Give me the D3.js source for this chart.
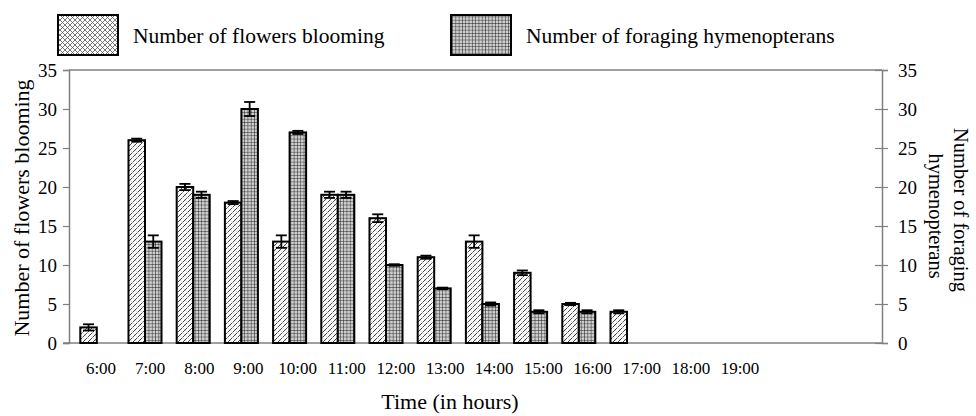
<!DOCTYPE html>
<html><head><meta charset="utf-8">
<script src="https://cdn.jsdelivr.net/npm/d3@7"></script>
<style>
html,body{margin:0;padding:0;background:#fff;}
svg{display:block;font-family:"Liberation Serif","Times New Roman",serif;}
</style></head>
<body>
<svg id="c" width="976" height="416"></svg>
<script>
// ---- data ----
const hours = ["6:00","7:00","8:00","9:00","10:00","11:00","12:00","13:00","14:00","15:00","16:00","17:00","18:00","19:00"];
const flowers    = [2, 26, 20, 18, 13, 19, 16, 11, 13, 9, 5, 4, null, null];
const flowersErr = [0.4, 0.2, 0.4, 0.2, 0.8, 0.4, 0.5, 0.2, 0.8, 0.3, 0.15, 0.2, null, null];
const hymen      = [null, 13, 19, 30, 27, 19, 10, 7, 5, 4, 4, null, null, null];
const hymenErr   = [null, 0.8, 0.4, 0.9, 0.2, 0.4, 0.1, 0.1, 0.2, 0.2, 0.2, null, null, null];
const yTicks = [0, 5, 10, 15, 20, 25, 30, 35];
const seriesNames = ["Number of flowers blooming", "Number of foraging hymenopterans"];

const svg = d3.select("#c");
const L = 69, R = 882, T = 70, B = 343;
const axisColor = "#808080";

// patterns
const defs = svg.append("defs");
const p1 = defs.append("pattern").attr("id","hatch").attr("patternUnits","userSpaceOnUse")
  .attr("width",5).attr("height",5);
p1.append("rect").attr("width",5).attr("height",5).attr("fill","#fff");
p1.append("path").attr("d","M0,5 L5,0 M-1,1 L1,-1 M4,6 L6,4").attr("stroke","#333").attr("stroke-width",0.9);
p1.append("path").attr("d","M0,0 L5,5").attr("stroke","#ccc").attr("stroke-width",0.6);

const p1b = defs.append("pattern").attr("id","cross").attr("patternUnits","userSpaceOnUse")
  .attr("width",5).attr("height",5);
p1b.append("rect").attr("width",5).attr("height",5).attr("fill","#fff");
p1b.append("path").attr("d","M0,5 L5,0 M-1,1 L1,-1 M4,6 L6,4 M0,0 L5,5 M-1,4 L1,6 M4,-1 L6,1").attr("stroke","#555").attr("stroke-width",0.8);

const p2 = defs.append("pattern").attr("id","grid").attr("patternUnits","userSpaceOnUse")
  .attr("width",3.3).attr("height",3.3);
p2.append("rect").attr("width",3.3).attr("height",3.3).attr("fill","#cfcfcf");
p2.append("path").attr("d","M0,0 L3.3,0 M0,0 L0,3.3").attr("stroke","#111").attr("stroke-width",0.9);

// scales
const x0 = d3.scaleBand().domain(hours).range([72.7, 72.7 + 48.2*hours.length]).paddingInner(0.315).paddingOuter(0.1575);
const x1 = d3.scaleBand().domain([0,1]).range([0, x0.bandwidth()]);
const y = d3.scaleLinear().domain([0,35]).range([B,T]);
const xl = d3.scalePoint().domain(hours).range([101, 740]);

// frame
svg.append("line").attr("x1",L).attr("x2",R).attr("y1",T).attr("y2",T).attr("stroke",axisColor).attr("stroke-width",1.5);

// left axis
const gl = svg.append("g").attr("transform",`translate(${L},0)`)
  .call(d3.axisLeft(y).tickValues(yTicks).tickSize(6).tickPadding(6));
gl.select(".domain").attr("stroke",axisColor).attr("stroke-width",1.5);
gl.selectAll(".tick line").attr("stroke",axisColor).attr("stroke-width",1.2);
gl.selectAll(".tick text").attr("font-family","Liberation Serif").attr("font-size",19).attr("fill","#000");

// right axis
const gr = svg.append("g").attr("transform",`translate(${R},0)`)
  .call(d3.axisRight(y).tickValues(yTicks).tickSize(6).tickPadding(10));
gr.select(".domain").attr("stroke",axisColor).attr("stroke-width",1.5);
gr.selectAll(".tick line").attr("stroke",axisColor).attr("stroke-width",1.2).attr("x1",-7).attr("x2",6);
gr.selectAll(".tick text").attr("font-family","Liberation Serif").attr("font-size",19).attr("fill","#000");

// bottom line
svg.append("line").attr("x1",L-6).attr("x2",R).attr("y1",B).attr("y2",B).attr("stroke",axisColor).attr("stroke-width",1.5);

// bars
const fills = ["url(#hatch)","url(#grid)"];
const vals = [flowers, hymen];
const errs = [flowersErr, hymenErr];
[0,1].forEach(s => {
  const data = hours.map((h,i)=>({h, v: vals[s][i], e: errs[s][i]})).filter(d=>d.v!=null);
  svg.append("g").selectAll("rect").data(data).join("rect")
    .attr("x", d=>x0(d.h)+x1(s))
    .attr("y", d=>y(d.v))
    .attr("width", x1.bandwidth())
    .attr("height", d=>y(0)-y(d.v))
    .attr("fill", fills[s])
    .attr("stroke","#000").attr("stroke-width",2);
  const eg = svg.append("g").attr("stroke","#000").attr("stroke-width",1.8);
  data.forEach(d=>{
    const cx = x0(d.h)+x1(s)+x1.bandwidth()/2;
    const y1v = y(d.v+d.e), y2v = y(d.v-d.e);
    eg.append("line").attr("x1",cx).attr("x2",cx).attr("y1",y1v).attr("y2",y2v);
    eg.append("line").attr("x1",cx-5.5).attr("x2",cx+5.5).attr("y1",y1v).attr("y2",y1v);
    eg.append("line").attr("x1",cx-5.5).attr("x2",cx+5.5).attr("y1",y2v).attr("y2",y2v);
  });
});

// x labels
svg.append("g").selectAll("text").data(hours).join("text")
  .attr("x", d=>xl(d)).attr("y", 374).attr("text-anchor","middle")
  .attr("font-size",17).attr("fill","#000").text(d=>d);

// axis titles
svg.append("text").attr("x",450).attr("y",409).attr("text-anchor","middle")
  .attr("font-size",22).attr("fill","#000").text("Time (in hours)");
svg.append("text").attr("transform","translate(29,208) rotate(-90)").attr("text-anchor","middle")
  .attr("font-size",22).attr("fill","#000").text("Number of flowers blooming");
svg.append("text").attr("transform","translate(954,210) rotate(90)").attr("text-anchor","middle")
  .attr("font-size",20.5).attr("fill","#000").text("Number of foraging");
svg.append("text").attr("transform","translate(929,216) rotate(90)").attr("text-anchor","middle")
  .attr("font-size",20.5).attr("fill","#000").text("hymenopterans");

// legend
const lg = [{x:58, tx:133, fill:"url(#cross)"},{x:451, tx:526, fill:"url(#grid)"}];
lg.forEach((l,i)=>{
  svg.append("rect").attr("x",l.x).attr("y",15).attr("width",60).attr("height",40)
    .attr("fill",l.fill).attr("stroke","#000").attr("stroke-width",2);
  svg.append("text").attr("x",l.tx).attr("y",43).attr("font-size",21.5).attr("fill","#000").text(seriesNames[i]);
});
</script>
</body></html>
